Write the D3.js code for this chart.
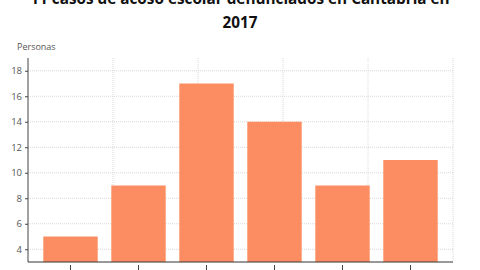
<!DOCTYPE html>
<html><head><meta charset="utf-8">
<script src="https://cdn.jsdelivr.net/npm/d3@7"></script>
<style>body{margin:0;background:#fff}svg{display:block}</style>
</head><body>
<svg id="c" width="480" height="270"></svg>
<script>
const categories = ["A","B","C","D","E","F"];
const values = [5, 9, 17, 14, 9, 11];
const yTicks = [4, 6, 8, 10, 12, 14, 16, 18];
const titleLines = ["11 casos de acoso escolar denunciados en Cantabria en", "2017"];
const yLabel = "Personas";

const svg = d3.select("#c");
const L = 28, R = 453, T = 58, B = 262;
const x = d3.scaleBand().domain(categories).range([L, R]).paddingInner(0.2).paddingOuter(0.225);
const y = d3.scaleLinear().domain([3, 19]).range([B, T]);
const gx = d3.scaleLinear().domain([0, 5]).range([L, R]);

// gridlines
svg.append("g").selectAll("line").data(yTicks).join("line")
  .attr("x1", L).attr("x2", R).attr("y1", d => y(d)).attr("y2", d => y(d))
  .attr("stroke", "#d8d8d8").attr("stroke-dasharray", "1,1");
svg.append("g").selectAll("line").data([1,2,3,4,5]).join("line")
  .attr("x1", d => gx(d)).attr("x2", d => gx(d)).attr("y1", T).attr("y2", B)
  .attr("stroke", "#d8d8d8").attr("stroke-dasharray", "1,1");

// bars
svg.append("g").selectAll("rect").data(values).join("rect")
  .attr("x", (d, i) => x(categories[i])).attr("width", x.bandwidth())
  .attr("y", d => y(d)).attr("height", d => y(3) - y(d))
  .attr("fill", "#fc8d62");

// y axis
const ya = svg.append("g").attr("transform", `translate(${L},0)`)
  .call(d3.axisLeft(y).tickValues(yTicks).tickSize(3).tickPadding(3));
ya.select(".domain").attr("stroke", "#444").attr("d", `M0,${T}V${B}`);
ya.selectAll(".tick line").attr("stroke", "#444");
ya.selectAll("text").attr("fill", "#555").style("font", "9.5px 'Open Sans'");

// x axis
const xa = svg.append("g").attr("transform", `translate(0,${B})`)
  .call(d3.axisBottom(x).tickSize(5).tickFormat(""));
xa.select(".domain").attr("stroke", "#333").attr("d", `M${L},0H${R}`);
xa.selectAll(".tick line").attr("stroke", "#444").attr("transform", "translate(0,3)").attr("y2", 5);

svg.append("text").attr("x", 17).attr("y", 50).text(yLabel)
  .attr("fill", "#555").style("font", "9px 'Open Sans'");

svg.append("g").selectAll("text").data(titleLines).join("text")
  .attr("x", 240).attr("y", (d, i) => 4 + i * 23.5).attr("text-anchor", "middle")
  .attr("fill", "#111").style("font", "bold 15.3px 'Open Sans'").text(d => d);
</script>
</body></html>
